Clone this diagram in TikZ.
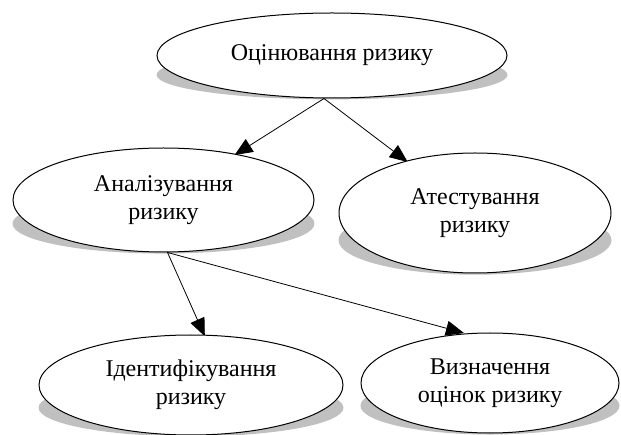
\documentclass[tikz,border=0pt]{standalone}
\usepackage{fontspec}
\setmainfont{Liberation Serif}
\usetikzlibrary{shapes.geometric, arrows.meta, backgrounds, calc}
\definecolor{shadowgray}{RGB}{192,192,192}

\begin{document}
\begin{tikzpicture}[
    x=1pt, y=-1pt,
    oval/.style n args={2}{ellipse, draw=black, line width=1pt, fill=white, inner sep=0pt, minimum width=#1, minimum height=#2, align=center, font=\fontsize{24}{28}\selectfont},
    arrow/.style={-{Triangle[length=18pt, width=15pt]}, line width=0.8pt, shorten >=-2pt}
]
    \useasboundingbox (0,0) rectangle (621,435);

    % Top level
    \node[oval={350pt}{85pt}] (assess) at (332,55.5) {Оцінювання ризику};

    % Second level
    \node[oval={301pt}{104pt}] (analysis) at (163.5,200) {Аналізування\\ризику};
    \node[oval={272pt}{120pt}] (attest) at (475,213) {Атестування\\ризику};

    % Third level
    \node[oval={304pt}{100pt}] (ident) at (191,385) {Ідентифікування\\ризику};
    \node[oval={258pt}{100pt}] (estim) at (490,383) {Визначення\\оцінок ризику};

    \begin{scope}[on background layer]
        % Shadows
        \foreach \nd in {assess, analysis, attest, ident, estim} {
            \path let \p1=(\nd.east), \p2=(\nd.center), \p3=(\nd.south) in
                [fill=shadowgray] ([yshift={-0.45*(\y2-\y3)}]\nd.center) ellipse [x radius={\x1-\x2}, y radius={0.57*(\y2-\y3)}];
        }
        % Connections
        \draw[arrow] ([xshift=-8pt]assess.south) -- (analysis);
        \draw[arrow] ([xshift=-8pt]assess.south) -- (attest);
        \draw[arrow] ([yshift=9pt]analysis.south) -- ([xshift=13pt]ident.north);
        \draw[arrow] ([xshift=4pt]analysis.south) -- ([xshift=-28pt]estim.north);
    \end{scope}
\end{tikzpicture}
\end{document}
